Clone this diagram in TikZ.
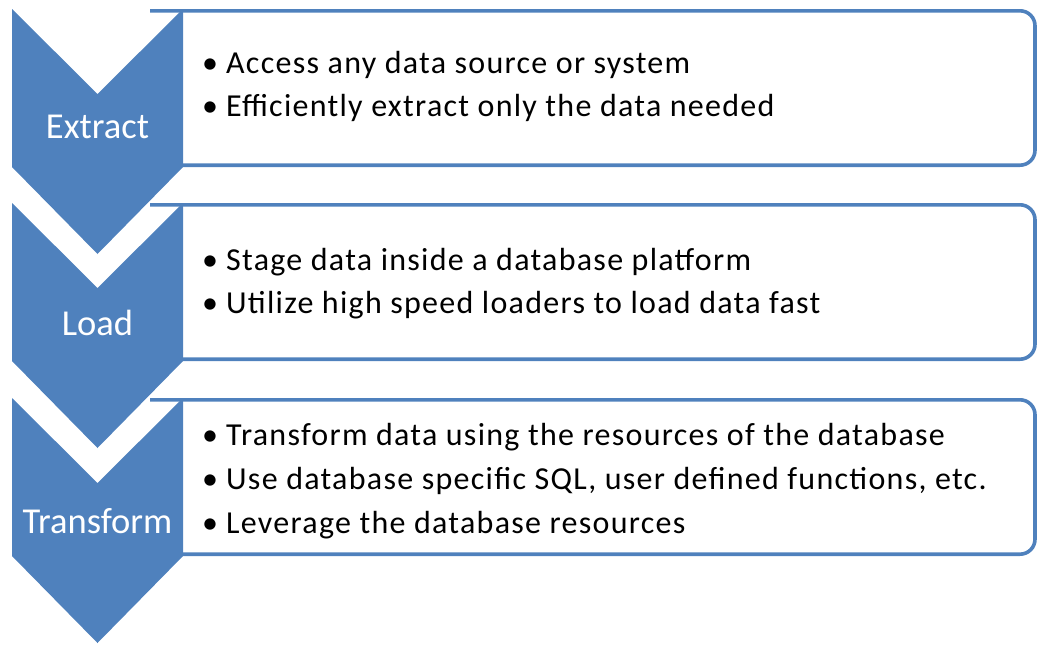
\documentclass[tikz,border=0pt]{standalone}
\usepackage{fontspec}
\setmainfont{Carlito}
\newfontfamily\bodyfont[LetterSpace=4.0]{Carlito}
\definecolor{accent}{HTML}{4F81BD}
\begin{document}
\begin{tikzpicture}[x=1pt,y=-1pt,
  chevron/.style={fill=accent,draw=none},
  boxline/.style={draw=accent,line width=3.6pt,rounded corners=15pt},
  steplabel/.style={text=white,font=\fontsize{36.5}{42}\selectfont,inner sep=0pt,anchor=base},
  bullettext/.style={text=black,font=\bodyfont\fontsize{32}{38}\selectfont,inner sep=0pt,anchor=base west}]
\useasboundingbox (0,0) rectangle (1039,645);
% boxes
\foreach \t in {9,203,398}{
  \draw[boxline] (150,\t+1.8) -- (1035,\t+1.8) -- (1035,\t+156.2) -- (150,\t+156.2);
}
% chevrons
\foreach \t in {9,203,398}{
  \fill[chevron] (12,\t) -- (97.5,\t+85) -- (183,\t) -- (183,\t+158) -- (97.5,\t+245) -- (12,\t+158) -- cycle;
}
% chevron labels
\node[steplabel] (lextract) at (97.5,138) {Extract};
\node[steplabel] (lload) at (97.5,335) {Load};
\node[steplabel] (ltransform) at (97.5,533) {Transform};
% bullets
\newcommand{\bul}{\makebox[14pt][c]{\textbullet}\hspace{9pt}}
\node[bullettext] (e1) at (203,73) {\bul Access any data source or system};
\node[bullettext] (e2) at (203,116) {\bul Efficiently extract only the data needed};
\node[bullettext] (l1) at (203,270) {\bul Stage data inside a database platform};
\node[bullettext] (l2) at (203,313) {\bul Utilize high speed loaders to load data fast};
\node[bullettext] (t1) at (203,445) {\bul Transform data using the resources of the database};
\node[bullettext] (t2) at (203,489) {\bul Use database specific SQL, user defined functions, etc.};
\node[bullettext] (t3) at (203,533) {\bul Leverage the database resources};
\end{tikzpicture}
\end{document}
